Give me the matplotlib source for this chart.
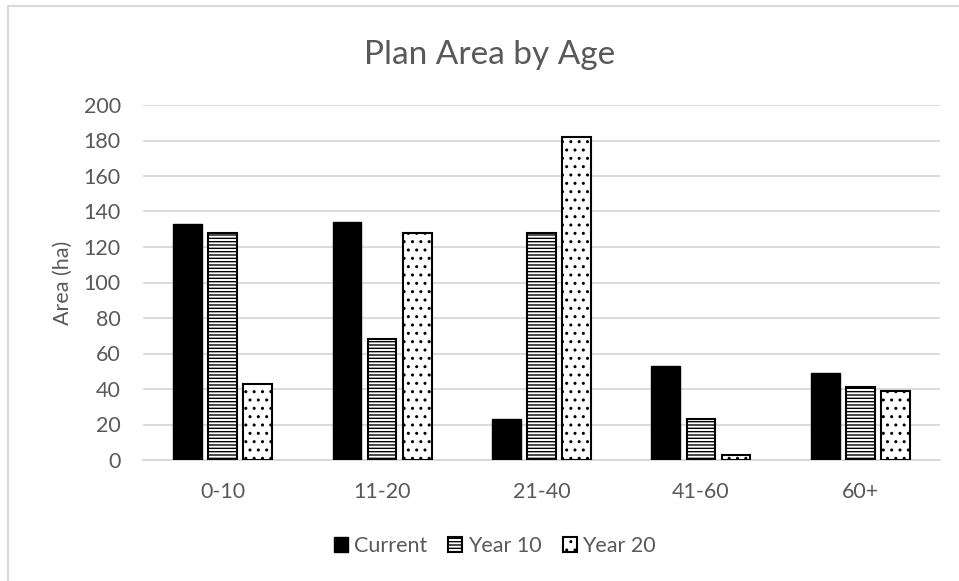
import numpy as np
import matplotlib.pyplot as plt
from matplotlib.lines import Line2D
from matplotlib.patches import Patch

# Data
age_classes = ['0-10', '11-20', '21-40', '41-60', '60+']
current = [133, 134, 23, 53, 49]
year_10 = [128, 68, 128, 23, 41]
year_20 = [43, 128, 182, 3, 39]
y_ticks = list(range(0, 201, 20))

plt.rcParams['font.family'] = ['Lato', 'DejaVu Sans']
plt.rcParams['hatch.linewidth'] = 1.0
text_grey = '#595959'

fig = plt.figure(figsize=(9.59, 5.81), dpi=100)
ax = fig.add_axes([143 / 959, 1 - 460 / 581, (940 - 143) / 959, (460 - 105) / 581])

x = np.arange(len(age_classes))
w = 0.18
off = 0.22

ax.bar(x - off, current, w, color='black', edgecolor='black', linewidth=1, zorder=3, label='Current')
ax.bar(x, year_10, w, color='white', edgecolor='black', hatch='-----', linewidth=1.5, zorder=3, label='Year 10')
ax.bar(x + off, year_20, w, color='white', edgecolor='black', hatch='..', linewidth=1.5, zorder=3, label='Year 20')

ax.set_xlim(-0.5, len(age_classes) - 0.5)
ax.set_ylim(0, 200)
ax.set_yticks(y_ticks)
ax.set_xticks(x)
ax.set_xticklabels(age_classes)
ax.tick_params(axis='both', length=0, colors=text_grey, labelsize=15.5)
ax.tick_params(axis='y', pad=16)
ax.tick_params(axis='x', pad=16)
ax.grid(axis='y', color='#d9d9d9', linewidth=1.3, zorder=0)
for s in ['top', 'right', 'left']:
    ax.spines[s].set_visible(False)
ax.spines['bottom'].set_color('#d9d9d9')
ax.spines['bottom'].set_linewidth(1.3)

ax.set_ylabel('Area (ha)', color=text_grey, fontsize=15.5, labelpad=8)
fig.text(490 / 959, 1 - 55 / 581, 'Plan Area by Age', ha='center', va='center',
         fontsize=24, color=text_grey)

handles = [
    Patch(facecolor='black', edgecolor='black', label='Current'),
    Patch(facecolor='white', edgecolor='black', hatch='-----', linewidth=1.5, label='Year 10'),
    Patch(facecolor='white', edgecolor='black', hatch='..', linewidth=1.5, label='Year 20'),
]
fig.legend(handles=handles, loc='center', bbox_to_anchor=(495 / 959, 1 - 546 / 581), ncol=3,
           frameon=False, fontsize=15.5, labelcolor=text_grey, handlelength=0.65,
           handleheight=0.65, handletextpad=0.25, columnspacing=1.0)

# chart area border (only top and left visible in the reference)
fig.add_artist(Line2D([8 / 959, 958 / 959], [1 - 6 / 581, 1 - 6 / 581], color='#d9d9d9', linewidth=1.5))
fig.add_artist(Line2D([8 / 959, 8 / 959], [1 - 6 / 581, 0], color='#d9d9d9', linewidth=1.5))

fig.savefig('out.png', dpi=100)
